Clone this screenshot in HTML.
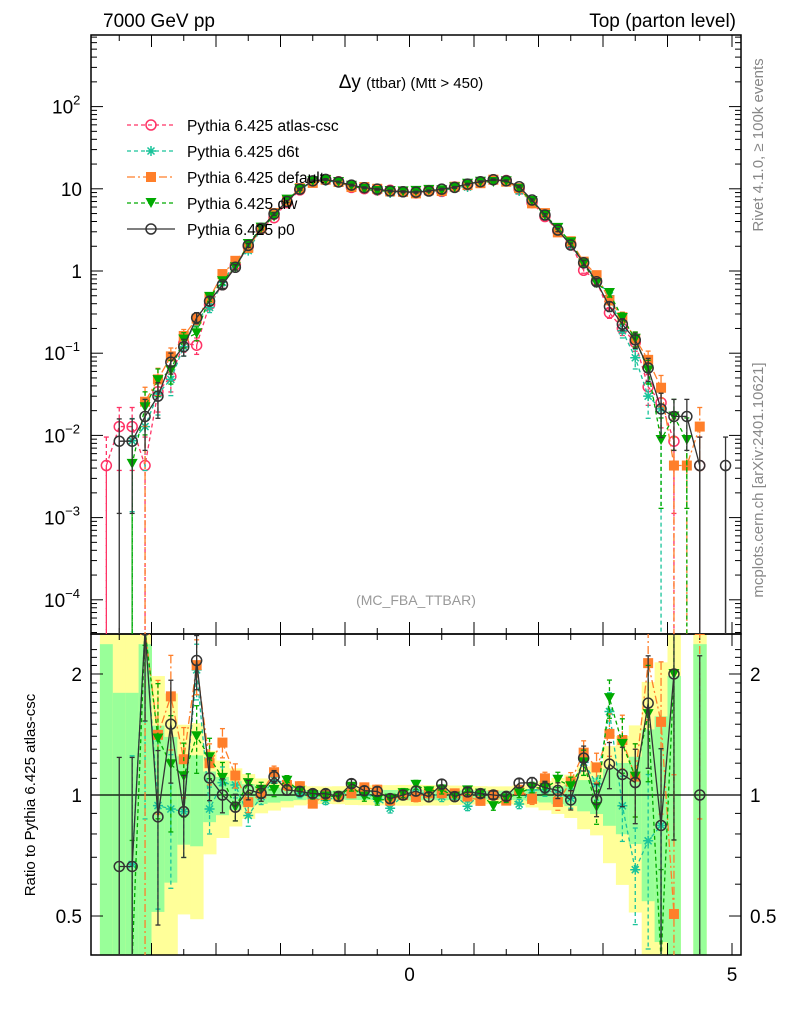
<!DOCTYPE html>
<html><head><meta charset="utf-8">
<style>
html,body{margin:0;background:#fff;overflow:hidden;width:786px;height:1024px;}
svg{display:block;font-family:"Liberation Sans",sans-serif;}
</style></head>
<body>
<svg id="chart" width="786" height="1024" viewBox="0 0 786 1024" overflow="hidden">
<defs>
<clipPath id="clipMain"><rect x="91" y="35" width="650" height="599"/></clipPath>
<clipPath id="clipRatio"><rect x="91" y="634" width="650" height="321"/></clipPath>
</defs>
<g id="bands" clip-path="url(#clipRatio)"></g>
<g id="axes"></g>
<g id="mainSeries" clip-path="url(#clipMain)"></g>
<g id="ratioSeries" clip-path="url(#clipRatio)"></g>
<text x="103" y="27" font-size="19">7000 GeV pp</text>
<text x="736" y="27" font-size="19" text-anchor="end">Top (parton level)</text>
<text x="411" y="88" font-size="19" text-anchor="middle">Δy <tspan font-size="15">(ttbar) (Mtt &gt; 450)</tspan></text>
<text x="416" y="605" font-size="14" fill="#999" text-anchor="middle">(MC_FBA_TTBAR)</text>
<text transform="translate(763,145) rotate(-90)" font-size="15" fill="#888" text-anchor="middle">Rivet 4.1.0, ≥ 100k events</text>
<text transform="translate(763,480) rotate(-90)" font-size="15" fill="#888" text-anchor="middle">mcplots.cern.ch [arXiv:2401.10621]</text>
<text transform="translate(35,795) rotate(-90)" font-size="15" text-anchor="middle">Ratio to Pythia 6.425 atlas-csc</text>
<g id="legend"></g>
</svg>
<script>
const binCenters = [-4.9,-4.7,-4.5,-4.3,-4.1,-3.9,-3.7,-3.5,-3.3,-3.1,-2.9,-2.7,-2.5,-2.3,-2.1,-1.9,-1.7,-1.5,-1.3,-1.1,-0.9,-0.7,-0.5,-0.3,-0.1,0.1,0.3,0.5,0.7,0.9,1.1,1.3,1.5,1.7,1.9,2.1,2.3,2.5,2.7,2.9,3.1,3.3,3.5,3.7,3.9,4.1,4.3,4.5,4.7,4.9];
const atlasCsc = [0,0.0043,0.0128,0.0128,0.0043,0.034,0.052,0.132,0.125,0.39,0.68,1.19,1.99,3.27,4.45,6.8,9.7,12.4,12.9,12.2,10.4,10.05,9.7,9.6,9.2,8.9,9.5,9.3,10.5,11.2,12.1,12.9,12.6,9.9,6.8,4.6,3.07,2.13,1.02,0.76,0.31,0.20,0.135,0.039,0.025,0.0085,0,0.0043,0,0];
const d6t = [0,0,0,0.0086,0.0128,0.032,0.048,0.12,0.256,0.36,0.73,1.26,1.77,3.24,4.85,7.28,9.8,12.15,12.5,12.1,10.7,10.15,9.5,8.9,9.2,9.0,9.6,9.2,10.5,10.5,12.2,12.9,12.5,9.4,7.0,4.74,3.1,2.09,1.23,0.81,0.5,0.188,0.088,0.030,0.021,0,0,0,0,0];
const defaultTune = [0,0,0,0,0.0257,0.048,0.0915,0.162,0.263,0.468,0.918,1.33,1.91,3.3,5.07,7.2,10.2,11.8,12.9,12.1,10.5,10.5,10.0,9.3,9.2,8.8,9.6,9.4,10.6,11.1,11.7,12.9,12.2,10.2,6.65,5.06,2.95,2.3,1.3,0.89,0.44,0.274,0.15,0.083,0.038,0.0043,0.0043,0.0128,0,0];
const dw = [0,0,0,0.0045,0.022,0.047,0.062,0.147,0.175,0.484,0.75,1.11,2.13,3.37,4.58,7.38,9.9,12.4,12.8,12.1,10.9,9.95,9.4,9.4,9.3,9.43,9.7,9.6,10.4,11.5,12.2,12.1,12.35,10.0,7.1,4.78,3.35,2.24,1.23,0.71,0.54,0.268,0.15,0.062,0.0088,0.017,0.0088,0,0,0];
const p0 = [0,0,0.0085,0.0085,0.017,0.030,0.078,0.12,0.27,0.43,0.68,1.11,2.05,3.3,4.94,7.0,9.9,12.5,13.0,12.1,11.1,10.3,9.9,9.4,9.2,9.1,9.4,9.9,10.4,11.4,12.2,12.9,12.5,10.6,7.3,4.8,3.15,2.07,1.26,0.74,0.37,0.225,0.145,0.066,0.021,0.017,0.017,0.0043,0,0.0043];
const seriesNames = ["Pythia 6.425 atlas-csc","Pythia 6.425 d6t","Pythia 6.425 default","Pythia 6.425 dw","Pythia 6.425 p0"];
const mainYTicks = [2,1,0,-1,-2,-3,-4];
const ratioTicks = [2,1,0.5];
const xTickLabels = [0,5];

const NS="http://www.w3.org/2000/svg";
const X0=409.5, XS=64.5;
const L=91,R=741,T=35,MB=634,RB=955;
const xp = v => X0 + XS*v;
const yMain = v => v>0 ? Math.min(271 - 82.2*Math.log10(v), 640) : 640;
const yRatio = v => v>0 ? Math.max(Math.min(795 - 402*Math.log10(v), 960), 630) : 960;
function mk(tag, attrs, parent){const e=document.createElementNS(NS,tag);for(const k in attrs)e.setAttribute(k,attrs[k]);parent.appendChild(e);return e;}
const axes=document.getElementById('axes');

const bands=document.getElementById('bands');
const hw=XS*0.1;
atlasCsc.forEach((a,i)=>{
  if(a<=0) return;
  const e=0.09/Math.sqrt(a);
  const x=xp(binCenters[i])-hw;
  const lo2=yRatio(Math.max(1-2*e,1e-6)), lo1=yRatio(Math.max(1-e,1e-6));
  const y1=mk('rect',{x:x,y:yRatio(1+2*e),width:2*hw+0.5,height:Math.max(0,lo2-yRatio(1+2*e)),fill:'#ffff99'},bands);
  
  
  const y2=mk('rect',{x:x,y:yRatio(1+e),width:2*hw+0.5,height:Math.max(0,lo1-yRatio(1+e)),fill:'#99ff99'},bands);
  
  
});

[[T,MB],[MB,RB]].forEach(([t,b])=>{
  const r=mk('rect',{x:L,y:t,width:R-L,height:b-t,fill:'none',stroke:'#000','stroke-width':1.5},axes);
  
  
});
mk('line',{x1:L,x2:R,y1:795,y2:795,stroke:'#000','stroke-width':1.2},axes);

for(let v=-4.5; v<=5.01; v+=0.5){
  const x=xp(v); if(x<L||x>R) continue;
  const major=Math.abs(v-Math.round(v))<1e-6; const len=major?12:6;
  [T,MB].forEach(y=>mk('line',{x1:x,x2:x,y1:y,y2:y+len,stroke:'#000'},axes));
  [MB,RB].forEach(y=>mk('line',{x1:x,x2:x,y1:y,y2:y-len,stroke:'#000'},axes));
}
xTickLabels.forEach(v=>{
  const t=mk('text',{x:xp(v),y:981,'font-size':19,'text-anchor':'middle'},axes);
  t.textContent=v;
  
  
});
for(let d=-5; d<=2; d++){
  for(let m=1;m<10;m++){
    const y=271 - 82.2*Math.log10(m*Math.pow(10,d)); if(y<T||y>MB) continue;
    const len=m===1?12:6;
    mk('line',{x1:L,x2:L+len,y1:y,y2:y,stroke:'#000'},axes);
    mk('line',{x1:R,x2:R-len,y1:y,y2:y,stroke:'#000'},axes);
  }
}
mainYTicks.forEach(d=>{
  const y=yMain(Math.pow(10,d))+7;
  const t=mk('text',{x:82,y:y,'font-size':19,'text-anchor':'end'},axes);
  
  
  if(d===0) t.textContent='1';
  else if(d===1) t.textContent='10';
  else { t.removeAttribute('text-anchor'); t.setAttribute('x', d<0?44:52); t.textContent='10'; const s=mk('tspan',{'font-size':13,dy:-9},t); s.textContent=String(d).replace('-','−'); }
});
for(let v=0.35; v<=2.31; v+=0.05){
  const y=795 - 402*Math.log10(v); if(y<MB||y>RB) continue;
  const isTenth=Math.abs(v*10-Math.round(v*10))<1e-6;
  if(!isTenth) continue;
  const maj=[5,10,20].includes(Math.round(v*10));
  const len=maj?12:6;
  mk('line',{x1:L,x2:L+len,y1:y,y2:y,stroke:'#000'},axes);
  mk('line',{x1:R,x2:R-len,y1:y,y2:y,stroke:'#000'},axes);
}
ratioTicks.forEach(v=>{
  const y=yRatio(v)+7;
  const a=mk('text',{x:82,y:y,'font-size':19,'text-anchor':'end'},axes); a.textContent=v;
  
  
  const b=mk('text',{x:750,y:y,'font-size':19},axes); b.textContent=v;
  
  
});

const styles=[
  {c:'#ff3366',dash:'4,3',m:'circle'},
  {c:'#19c39a',dash:'4,3',m:'star'},
  {c:'#ff7f2a',dash:'8,3,2,3',m:'square'},
  {c:'#00aa00',dash:'4,3',m:'tri'},
  {c:'#333333',dash:'',m:'circle'}
];
const allSeries=[atlasCsc,d6t,defaultTune,dw,p0];
function marker(g,st,x,y){
  let e;
  if(st.m==='circle') e=mk('circle',{cx:x,cy:y,r:5,fill:'none',stroke:st.c,'stroke-width':1.5},g);
  else if(st.m==='square') e=mk('rect',{x:x-5,y:y-5,width:10,height:10,fill:st.c},g);
  else if(st.m==='tri') e=mk('path',{d:`M${x-5.5},${y-5}L${x+5.5},${y-5}L${x},${y+5}Z`,fill:st.c},g);
  else { e=mk('path',{d:`M${x-5},${y}H${x+5}M${x},${y-5}V${y+5}M${x-3.5},${y-3.5}L${x+3.5},${y+3.5}M${x-3.5},${y+3.5}L${x+3.5},${y-3.5}`,stroke:st.c,'stroke-width':1.5},g); }
  return e;
}
function drawSeries(parent,vals,st,yf,isRatio,name){
  const g=mk('g',{},parent);
  
  
  const bottom=yf(0);
  let d='',prev=null; // prev: 'none' | 'zero' | {x}
  vals.forEach((v,i)=>{
    const x=xp(binCenters[i]);
    if(v===null){prev=null;return;}
    if(v<=0){
      if(prev && prev!=='zero') d+='L'+prev.x+','+bottom;
      prev='zero'; return;
    }
    const y=yf(v);
    if(prev==='zero') d+='M'+x+','+bottom+'L'+x+','+y;
    else if(prev) d+='L'+x+','+y;
    else d+='M'+x+','+y;
    prev={x:x};
  });
  mk('path',{d:d,fill:'none',stroke:st.c,'stroke-width':1.3,'stroke-dasharray':st.dash},g);
  vals.forEach((v,i)=>{
    if(v===null||v<=0) return;
    const base=isRatio?atlasCsc[i]*v:v;
    const e=0.08/Math.sqrt(base);
    const x=xp(binCenters[i]);
    const yt=yf(v*(1+e)), yb=v*(1-e)>0?yf(v*(1-e)):bottom;
    mk('line',{x1:x,x2:x,y1:yt,y2:yb,stroke:st.c,'stroke-width':1.3,'stroke-dasharray':st.dash},g);
    mk('line',{x1:x-2.5,x2:x+2.5,y1:yt,y2:yt,stroke:st.c,'stroke-width':1.3},g);
    mk('line',{x1:x-2.5,x2:x+2.5,y1:yb,y2:yb,stroke:st.c,'stroke-width':1.3},g);
    const mkEl=marker(g,st,x,yf(v));
    
    
  });
}
const mainG=document.getElementById('mainSeries'), ratioG=document.getElementById('ratioSeries');
allSeries.forEach((s,k)=>{
  drawSeries(mainG,s,styles[k],yMain,false,'series-'+k);
  if(k>0){
    const rat=s.map((v,i)=>atlasCsc[i]>0?v/atlasCsc[i]:null);
    drawSeries(ratioG,rat,styles[k],yRatio,true,'ratio-series-'+k);
  }
});

const lg=document.getElementById('legend');
seriesNames.forEach((n,k)=>{
  const y=125+26*k, st=styles[k];
  const g=mk('g',{},lg);
  
  
  mk('line',{x1:127,x2:175,y1:y,y2:y,stroke:st.c,'stroke-width':1.3,'stroke-dasharray':st.dash},g);
  marker(g,st,151,y);
  const t=mk('text',{x:187,y:y+6,'font-size':15.5},g); t.textContent=n;
});
</script>
</body></html>
